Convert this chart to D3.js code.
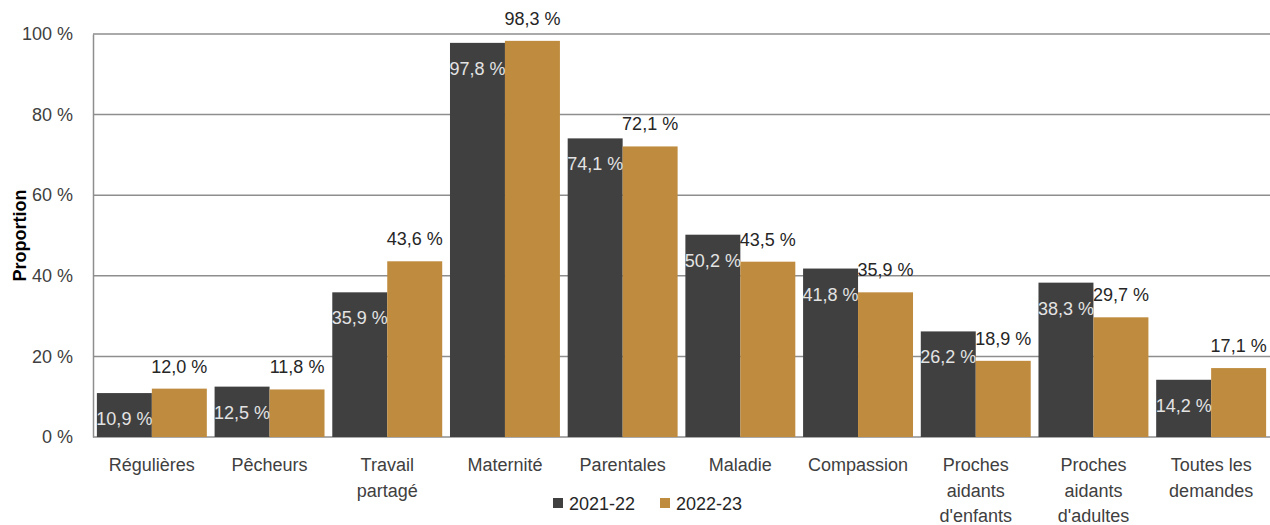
<!DOCTYPE html>
<html lang="fr">
<head>
<meta charset="utf-8">
<script src="https://cdn.jsdelivr.net/npm/d3@7/dist/d3.min.js"></script>
<style>
  html, body { margin: 0; padding: 0; background: #fff; }
  svg { display: block; font-family: "Liberation Sans", Arial, sans-serif; }
</style>
</head>
<body>
<svg id="chart" width="1270" height="525"></svg>
<script>
// Prestations : proportion par type de demande
const categories = [
  ["Régulières"],
  ["Pêcheurs"],
  ["Travail", "partagé"],
  ["Maternité"],
  ["Parentales"],
  ["Maladie"],
  ["Compassion"],
  ["Proches", "aidants", "d'enfants"],
  ["Proches", "aidants", "d'adultes"],
  ["Toutes les", "demandes"]
];
const seriesNames = ["2021-22", "2022-23"];
const values2021 = [10.9, 12.5, 35.9, 97.8, 74.1, 50.2, 41.8, 26.2, 38.3, 14.2];
const values2022 = [12.0, 11.8, 43.6, 98.3, 72.1, 43.5, 35.9, 18.9, 29.7, 17.1];
const yTicks = [0, 20, 40, 60, 80, 100];

const colors = ["#404040", "#BF8B3E"];
const svg = d3.select("#chart");
const margin = { left: 93, right: 0, top: 34, bottom: 88 };
const W = 1270, H = 525;

const x0 = d3.scaleBand()
  .domain(d3.range(categories.length))
  .range([margin.left, W - margin.right])
  .paddingInner(0.066)
  .paddingOuter(0.033);
const x1 = d3.scaleBand().domain([0, 1]).range([0, x0.bandwidth()]);
const y = d3.scaleLinear().domain([0, 100]).range([H - margin.bottom, margin.top]);

const fmt = v => d3.format(".1f")(v).replace(".", ",") + " %";

// Grille horizontale
svg.append("g")
  .selectAll("line")
  .data(yTicks)
  .join("line")
  .attr("x1", margin.left).attr("x2", W - margin.right)
  .attr("y1", d => y(d)).attr("y2", d => y(d))
  .attr("stroke", "#8E8E8E").attr("stroke-width", 1.5);

// Axe vertical
const yAxis = d3.axisLeft(y).tickValues(yTicks).tickSize(0).tickPadding(20)
  .tickFormat(d => d + " %");
const gy = svg.append("g").attr("transform", `translate(${margin.left},0)`).call(yAxis);
gy.select(".domain").attr("stroke", "#8E8E8E").attr("stroke-width", 1.5);
gy.selectAll("text").attr("font-size", 18).attr("fill", "#404040")
  .attr("font-family", "Liberation Sans, Arial, sans-serif");

svg.append("text")
  .attr("transform", `translate(26,${(y(0) + y(100)) / 2}) rotate(-90)`)
  .attr("text-anchor", "middle")
  .attr("font-size", 18).attr("font-weight", "bold").attr("fill", "#000")
  .text("Proportion");

// Barres
const rows = categories.map((c, i) => ({ i, vals: [values2021[i], values2022[i]] }));
const groups = svg.append("g").selectAll("g")
  .data(rows).join("g")
  .attr("transform", d => `translate(${x0(d.i)},0)`);

groups.selectAll("rect")
  .data(d => d.vals.map((v, s) => ({ v, s })))
  .join("rect")
  .attr("x", d => x1(d.s))
  .attr("width", x1.bandwidth())
  .attr("y", d => y(d.v))
  .attr("height", d => y(0) - y(d.v))
  .attr("fill", d => colors[d.s]);

// Étiquettes de valeur
groups.selectAll("text.val")
  .data(d => d.vals.map((v, s) => ({ v, s })))
  .join("text")
  .attr("class", "val")
  .attr("x", d => x1(d.s) + x1.bandwidth() / 2)
  .attr("y", d => d.s === 0 ? y(d.v) + 32 : y(d.v) - 16)
  .attr("text-anchor", "middle")
  .attr("font-size", 18)
  .attr("fill", d => d.s === 0 ? "#E3E3E3" : "#262626")
  .text(d => fmt(d.v));

// Étiquettes de catégorie
const cat = svg.append("g").selectAll("text")
  .data(categories.map((lines, i) => ({ lines, i })))
  .join("text")
  .attr("x", d => x0(d.i) + x0.bandwidth() / 2)
  .attr("y", 471)
  .attr("text-anchor", "middle")
  .attr("font-size", 18)
  .attr("fill", "#404040");
cat.selectAll("tspan")
  .data(d => d.lines.map(t => ({ t, x: x0(d.i) + x0.bandwidth() / 2 })))
  .join("tspan")
  .attr("x", d => d.x)
  .attr("dy", (d, k) => k === 0 ? 0 : 25.5)
  .text(d => d.t);

// Légende
const legend = svg.append("g");
const legendItems = [{ name: seriesNames[0], x: 553 }, { name: seriesNames[1], x: 660 }];
legendItems.forEach((it, s) => {
  legend.append("rect").attr("x", it.x).attr("y", 498).attr("width", 10).attr("height", 10)
    .attr("fill", colors[s]);
  legend.append("text").attr("x", it.x + 16).attr("y", 510)
    .attr("font-size", 18).attr("fill", "#262626").text(it.name);
});
</script>
</body>
</html>
